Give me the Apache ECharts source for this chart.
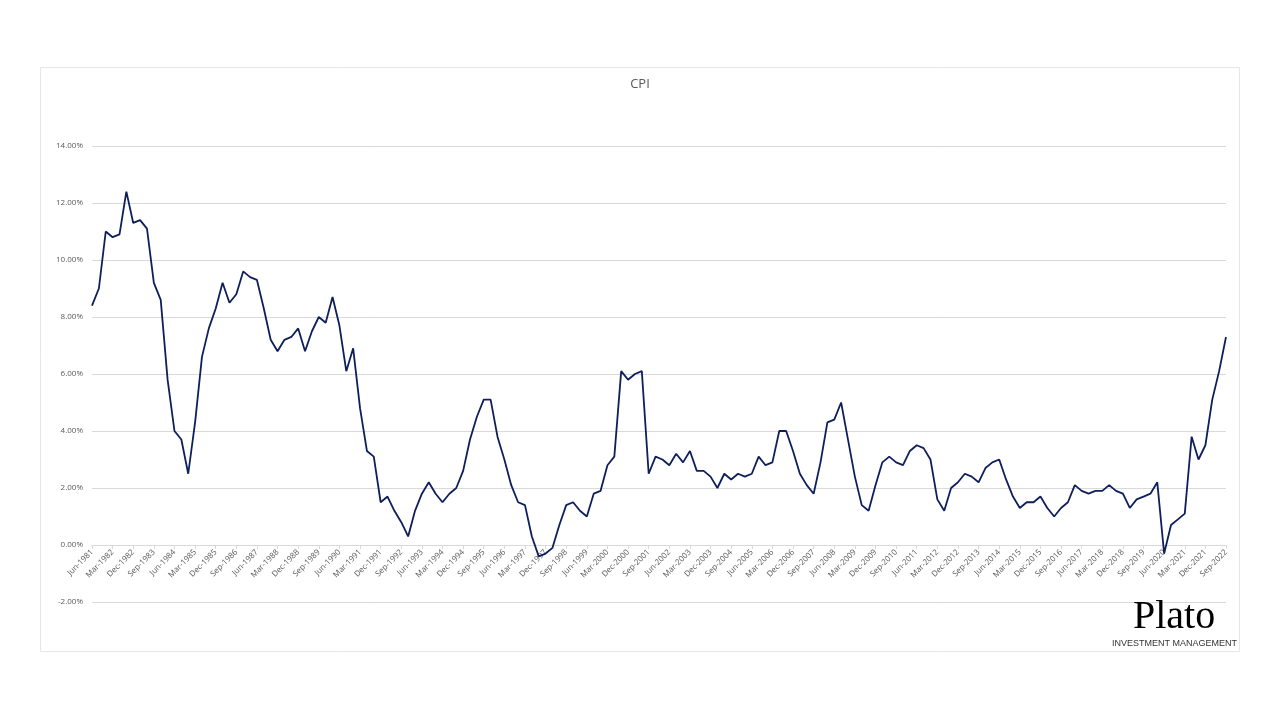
<!DOCTYPE html>
<html>
<head>
<meta charset="utf-8">
<script src="https://cdn.jsdelivr.net/npm/echarts@6/dist/echarts.min.js"></script>
<style>
html,body{margin:0;padding:0;background:#fff;}
#chart{width:1280px;height:720px;}
</style>
</head>
<body>
<div id="chart"></div>
<script>
const months = ['Mar', 'Jun', 'Sep', 'Dec'];
const startYear = 1981;
const startQuarter = 1; // Jun
const cpiValues = [
  8.4, 9.0, 11.0, 10.8, 10.9, 12.4, 11.3, 11.4, 11.1, 9.2,
  8.6, 5.8, 4.0, 3.7, 2.5, 4.3, 6.6, 7.6, 8.3, 9.2,
  8.5, 8.8, 9.6, 9.4, 9.3, 8.3, 7.2, 6.8, 7.2, 7.3,
  7.6, 6.8, 7.5, 8.0, 7.8, 8.7, 7.7, 6.1, 6.9, 4.8,
  3.3, 3.1, 1.5, 1.7, 1.2, 0.8, 0.3, 1.2, 1.8, 2.2,
  1.8, 1.5, 1.8, 2.0, 2.6, 3.7, 4.5, 5.1, 5.1, 3.8,
  3.0, 2.1, 1.5, 1.4, 0.3, -0.4, -0.3, -0.1, 0.7, 1.4,
  1.5, 1.2, 1.0, 1.8, 1.9, 2.8, 3.1, 6.1, 5.8, 6.0,
  6.1, 2.5, 3.1, 3.0, 2.8, 3.2, 2.9, 3.3, 2.6, 2.6,
  2.4, 2.0, 2.5, 2.3, 2.5, 2.4, 2.5, 3.1, 2.8, 2.9,
  4.0, 4.0, 3.3, 2.5, 2.1, 1.8, 2.9, 4.3, 4.4, 5.0,
  3.7, 2.4, 1.4, 1.2, 2.1, 2.9, 3.1, 2.9, 2.8, 3.3,
  3.5, 3.4, 3.0, 1.6, 1.2, 2.0, 2.2, 2.5, 2.4, 2.2,
  2.7, 2.9, 3.0, 2.3, 1.7, 1.3, 1.5, 1.5, 1.7, 1.3,
  1.0, 1.3, 1.5, 2.1, 1.9, 1.8, 1.9, 1.9, 2.1, 1.9,
  1.8, 1.3, 1.6, 1.7, 1.8, 2.2, -0.3, 0.7, 0.9, 1.1,
  3.8, 3.0, 3.5, 5.1, 6.1, 7.3
];
const categories = cpiValues.map((v, i) => {
  const q = startQuarter + i;
  return months[q % 4] + '-' + (startYear + Math.floor(q / 4));
});
const yTicks = { min: -2, max: 14, interval: 2 };

const gridTop = 146, gridBottom = 118, chartH = 720;
// distance (px) from the bottom of the plot (min) up to the zero line
const zeroOffset = (chartH - gridTop - gridBottom) * (0 - yTicks.min) / (yTicks.max - yTicks.min);

const chart = echarts.init(document.getElementById('chart'), null, { renderer: 'canvas' });
const labelColor = '#595959';
const gridColor = '#d9d9d9';
chart.setOption({
  backgroundColor: '#ffffff',
  animation: false,
  title: {
    text: 'CPI',
    left: 'center',
    top: 73,
    textStyle: { color: labelColor, fontSize: 13, fontWeight: 'normal', fontFamily: 'Open Sans, Liberation Sans, sans-serif' }
  },
  grid: { left: 92, right: 54, top: gridTop, bottom: gridBottom, containLabel: false },
  xAxis: {
    type: 'category',
    data: categories,
    boundaryGap: false,
    offset: -zeroOffset,
    axisLine: { onZero: false, lineStyle: { color: gridColor, width: 1 } },
    axisTick: { show: true, interval: 2, length: 4, lineStyle: { color: gridColor } },
    axisLabel: {
      interval: 2,
      rotate: 45,
      color: labelColor,
      fontSize: 8,
      margin: 6,
      fontFamily: 'Open Sans, Liberation Sans, sans-serif'
    },
    splitLine: { show: false }
  },
  yAxis: {
    type: 'value',
    min: yTicks.min,
    max: yTicks.max,
    interval: yTicks.interval,
    axisLine: { show: false },
    axisTick: { show: false },
    axisLabel: {
      color: labelColor,
      fontSize: 8,
      margin: 9,
      fontFamily: 'Open Sans, Liberation Sans, sans-serif',
      formatter: v => v.toFixed(2) + '%'
    },
    splitLine: { lineStyle: { color: gridColor, width: 1 } }
  },
  series: [{
    type: 'line',
    data: cpiValues,
    symbol: 'none',
    lineStyle: { color: '#0e1f5b', width: 1.8 },
    z: 5
  }],
  graphic: [
    {
      type: 'rect',
      shape: { x: 40.5, y: 67.5, width: 1199, height: 584 },
      style: { fill: 'none', stroke: '#e6e6e6', lineWidth: 1 },
      silent: true, z: -1
    },
    {
      type: 'text',
      left: 1133,
      top: 597,
      style: { text: 'Plato', fill: '#000', font: '40px "Liberation Serif", "DejaVu Serif", serif' },
      z: 10
    },
    {
      type: 'text',
      left: 1112,
      top: 639,
      style: { text: 'INVESTMENT MANAGEMENT', fill: '#333', font: '9px "Liberation Sans", "DejaVu Sans", sans-serif' },
      z: 10
    }
  ]
});
</script>
</body>
</html>
